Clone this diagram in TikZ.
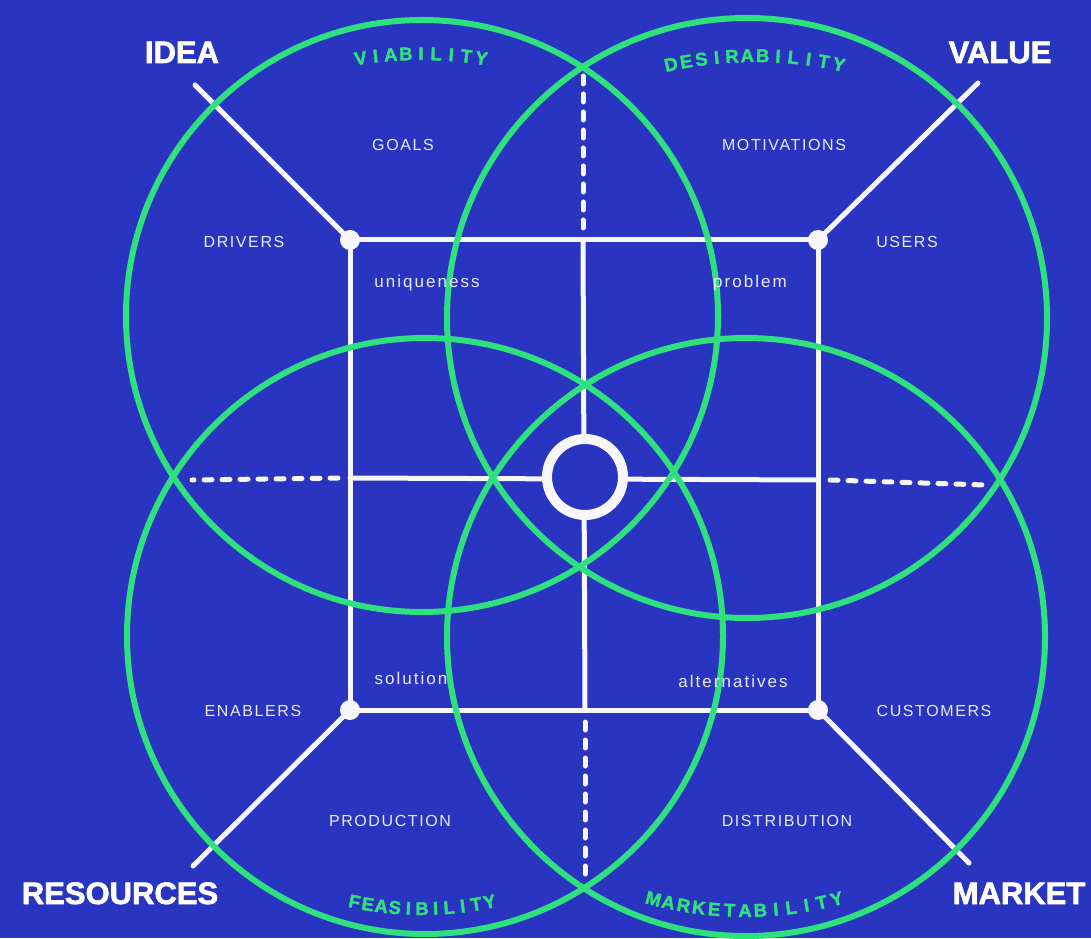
\documentclass[tikz,border=0pt]{standalone}
\usepackage{fontspec}
\usetikzlibrary{calc}
\setmainfont{Liberation Sans}
\newfontfamily\heavyfont[FakeBold=2]{Liberation Sans}
\newfontfamily\labelfont[LetterSpace=10]{Liberation Sans}
\newfontfamily\lowerfont[LetterSpace=12]{Liberation Sans}

\definecolor{bgblue}{HTML}{2934C0}
\definecolor{mint}{HTML}{2FE07E}
\definecolor{chalk}{HTML}{F7F7FB}
\definecolor{softwhite}{HTML}{E8EAF8}

\newlength\glyphw
\newcommand\curvefont{\heavyfont\bfseries\fontsize{18.5}{18.5}\selectfont}

% Letters set one by one along an arc.
% #1 arc centre, #2 baseline radius, #3 middle angle,
% #4 -1 for a word over the top, +1 for a word under the bottom,
% #5 length of the word along the arc, #6 comma list of letters
\newcommand\arcword[6]{%
  \gdef\arcsum{0}\gdef\arccount{0}%
  \foreach \letterch in {#6}{%
    \settowidth\glyphw{\curvefont\letterch}%
    \pgfmathsetmacro\arctmp{\arcsum+max(\glyphw,7.5)}\global\let\arcsum\arctmp
    \pgfmathsetmacro\arctmp{\arccount+1}\global\let\arccount\arctmp}%
  \pgfmathsetmacro\arcgap{(#5-\arcsum)/(\arccount-1)}%
  \gdef\arcpos{0}%
  \foreach \letterch in {#6}{%
    \settowidth\glyphw{\curvefont\letterch}%
    \pgfmathsetmacro\cellw{max(\glyphw,7.5)}%
    \pgfmathsetmacro\arcang{#3+(#4)*(\arcpos+\cellw/2-#5/2)/#2*180/pi}%
    \pgfmathsetmacro\arcrot{\arcang+(#4)*90}%
    \node[curveletter, rotate=\arcrot] at ($(#1)+(\arcang:#2)$) {\letterch};
    \pgfmathsetmacro\arctmp{\arcpos+\cellw+\arcgap}\global\let\arcpos\arctmp}%
}

\begin{document}
\begin{tikzpicture}[x=1pt,y=1pt,
  wire/.style={chalk, line width=5pt, line cap=round},
  dashline/.style={chalk, line width=5pt, line cap=round, dash pattern=on 8pt off 10pt},
  lensline/.style={mint, line width=6pt},
  joint/.style={circle, fill=chalk, minimum size=20pt, inner sep=0pt},
  hub/.style={circle, draw=chalk, line width=10pt, fill=bgblue, minimum size=76pt, inner sep=0pt},
  curveletter/.style={font=\curvefont, text=mint, anchor=base, inner sep=0pt},
  bigword/.style={font=\heavyfont\bfseries\fontsize{31}{31}\selectfont, text=white, anchor=base, inner sep=0pt},
  smallword/.style={font=\labelfont\fontsize{16}{16}\selectfont, text=softwhite, anchor=base, inner sep=0pt},
  lowerword/.style={font=\lowerfont\fontsize{17}{17}\selectfont, text=softwhite, anchor=base, inner sep=0pt},
]
\fill[bgblue] (0,0) rectangle (1091,938);
\useasboundingbox (0,0) rectangle (1091,938);

% grid corners and ends
\coordinate (A) at (350,698);
\coordinate (B) at (818,698);
\coordinate (C) at (350,228);
\coordinate (D) at (818,228);
\coordinate (O) at (585,461);
\coordinate (Ntop) at (583,698);
\coordinate (Nbot) at (585,228);
\coordinate (Wmid) at (350,460);
\coordinate (Emid) at (818,458);
\coordinate (topEnd) at (583,862);
\coordinate (botEnd) at (585,63);
\coordinate (leftEnd) at (192,458);
\coordinate (rightEnd) at (985,453);
\coordinate (ideaEnd) at (195,853);
\coordinate (valueEnd) at (978,855);
\coordinate (resEnd) at (193,72);
\coordinate (marketEnd) at (969,75);

% white frame
\draw[wire] (A) -- (B) -- (D) -- (C) -- cycle;
\draw[wire] (Ntop) -- (Nbot);
\draw[wire] (Wmid) -- (Emid);
\draw[dashline] ($(Ntop)+(0,12)$) -- (topEnd);
\draw[dashline] ($(Nbot)+(0,-12)$) -- (botEnd);
\draw[dashline] ($(Wmid)+(-12,0)$) -- (leftEnd);
\draw[dashline] ($(Emid)+(12,0)$) -- (rightEnd);
\draw[wire] (A) -- (ideaEnd);
\draw[wire] (B) -- (valueEnd);
\draw[wire] (C) -- (resEnd);
\draw[wire] (D) -- (marketEnd);
\node[hub] (hub) at (O) {};
\node[joint] (jA) at (A) {};
\node[joint] (jB) at (B) {};
\node[joint] (jC) at (C) {};
\node[joint] (jD) at (D) {};

% four overlapping circles
\coordinate (cTL) at (422,622);
\coordinate (cTR) at (747,620);
\coordinate (cBL) at (425,302);
\coordinate (cBR) at (746,301);
\draw[lensline] (cTL) circle (296);
\draw[lensline] (cTR) circle (300);
\draw[lensline] (cBL) circle (298);
\draw[lensline] (cBR) circle (299);

% curved circle names
\arcword{421,478}{400}{90}{-1}{127}{V,I,A,B,I,L,I,T,Y}
\arcword{755,476}{400}{90}{-1}{174}{D,E,S,I,R,A,B,I,L,I,T,Y}
\arcword{422,363}{340}{270}{1}{146}{F,E,A,S,I,B,I,L,I,T,Y}
\arcword{745,391}{370}{270}{1}{196}{M,A,R,K,E,T,A,B,I,L,I,T,Y}

% corner titles
\node[bigword] (idea) at (182,875) {IDEA};
\node[bigword] (value) at (1000,875) {VALUE};
\node[bigword] (resources) at (120,34) {RESOURCES};
\node[bigword] (market) at (1019,34) {MARKET};

% field labels
\node[smallword] (goals) at (403,787) {GOALS};
\node[smallword] (motivations) at (784,787) {MOTIVATIONS};
\node[smallword] (drivers) at (244,690) {DRIVERS};
\node[smallword] (users) at (907,690) {USERS};
\node[lowerword] (uniqueness) at (427,650) {uniqueness};
\node[lowerword] (problem) at (750,650) {problem};
\node[lowerword] (solution) at (411,254) {solution};
\node[lowerword] (alternatives) at (733,251) {alternatives};
\node[smallword] (enablers) at (253,222) {ENABLERS};
\node[smallword] (customers) at (934,222) {CUSTOMERS};
\node[smallword] (production) at (390,112) {PRODUCTION};
\node[smallword] (distribution) at (787,112) {DISTRIBUTION};
\end{tikzpicture}
\end{document}
